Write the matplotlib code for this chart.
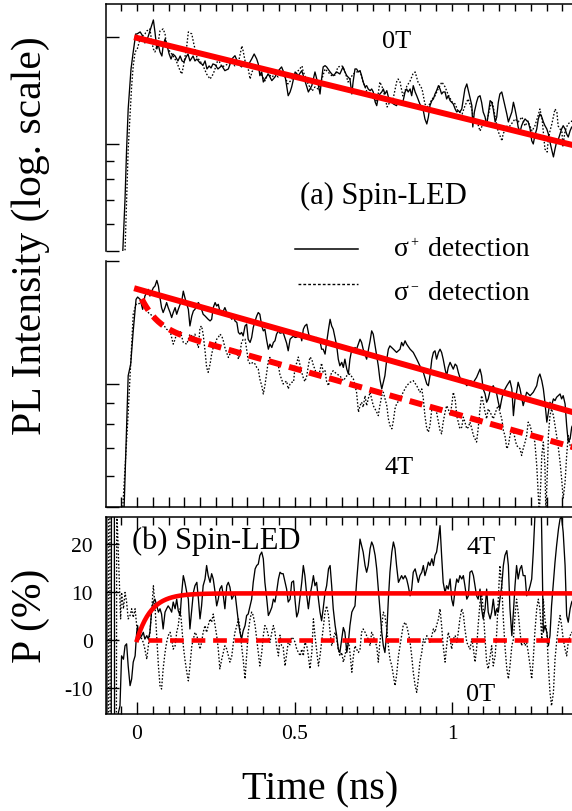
import numpy as np
import matplotlib
matplotlib.use("Agg")
import matplotlib.pyplot as plt
from matplotlib.lines import Line2D
from matplotlib.ticker import FixedLocator, NullFormatter, NullLocator

plt.rcParams["font.family"] = ["Liberation Serif", "DejaVu Serif"]
plt.rcParams["mathtext.fontset"] = "stix"

# ---------------------------------------------------------------------------
# Time-resolved PL of the spin-LED: (time in ns, log10 of PL counts)
# ---------------------------------------------------------------------------
sig_plus_0T = [
    (-0.060, 1.30), (-0.045, 2.003), (-0.038, 2.486), (-0.033, 2.953), (-0.028, 3.327), (-0.019, 3.701),
    (-0.012, 3.860), (-0.004, 4.028), (0.000, 4.028), (0.010, 4.047), (0.016, 4.019), (0.025, 3.944),
    (0.035, 4.000), (0.041, 4.056), (0.048, 4.121), (0.052, 4.159), (0.057, 4.047), (0.063, 3.888),
    (0.067, 3.935), (0.073, 3.860), (0.079, 3.822), (0.083, 3.916), (0.089, 3.981), (0.095, 3.925),
    (0.102, 3.841), (0.108, 3.794), (0.114, 3.841), (0.121, 3.822), (0.130, 3.776), (0.137, 3.822),
    (0.143, 3.776), (0.149, 3.766), (0.156, 3.813), (0.162, 3.841), (0.168, 3.776), (0.178, 3.822),
    (0.184, 3.776), (0.190, 3.794), (0.200, 3.757), (0.210, 3.738), (0.216, 3.776), (0.222, 3.701),
    (0.229, 3.729), (0.235, 3.710), (0.241, 3.748), (0.248, 3.740), (0.257, 3.701), (0.269, 3.732),
    (0.279, 3.685), (0.290, 3.701), (0.301, 3.794), (0.311, 3.825), (0.322, 3.748), (0.332, 3.720),
    (0.343, 3.766), (0.352, 3.732), (0.364, 3.794), (0.372, 3.841), (0.380, 3.794), (0.385, 3.748),
    (0.390, 3.638), (0.396, 3.673), (0.401, 3.579), (0.406, 3.607), (0.417, 3.654), (0.428, 3.592),
    (0.438, 3.626), (0.449, 3.685), (0.459, 3.720), (0.470, 3.638), (0.480, 3.451), (0.486, 3.486),
    (0.491, 3.533), (0.502, 3.673), (0.512, 3.638), (0.523, 3.685), (0.533, 3.592), (0.544, 3.486),
    (0.555, 3.545), (0.565, 3.673), (0.576, 3.545), (0.581, 3.467), (0.586, 3.607), (0.591, 3.720),
    (0.597, 3.732), (0.602, 3.720), (0.613, 3.673), (0.623, 3.638), (0.634, 3.673), (0.644, 3.654),
    (0.654, 3.720), (0.660, 3.673), (0.666, 3.638), (0.676, 3.607), (0.682, 3.467), (0.686, 3.579),
    (0.692, 3.701), (0.697, 3.701), (0.703, 3.673), (0.708, 3.685), (0.713, 3.638), (0.718, 3.579),
    (0.724, 3.533), (0.729, 3.545), (0.734, 3.514), (0.740, 3.498), (0.745, 3.514), (0.750, 3.486),
    (0.756, 3.393), (0.761, 3.358), (0.766, 3.439), (0.771, 3.467), (0.777, 3.486), (0.782, 3.514),
    (0.787, 3.467), (0.793, 3.498), (0.798, 3.439), (0.803, 3.405), (0.814, 3.374), (0.824, 3.358),
    (0.830, 3.405), (0.835, 3.374), (0.845, 3.405), (0.851, 3.486), (0.856, 3.514), (0.861, 3.486),
    (0.867, 3.514), (0.872, 3.451), (0.877, 3.545), (0.883, 3.486), (0.888, 3.451), (0.898, 3.374),
    (0.909, 3.311), (0.914, 3.234), (0.920, 3.187), (0.925, 3.252), (0.930, 3.358), (0.936, 3.405),
    (0.941, 3.421), (0.946, 3.467), (0.951, 3.498), (0.957, 3.545), (0.962, 3.514), (0.967, 3.467),
    (0.972, 3.486), (0.978, 3.486), (0.983, 3.421), (0.988, 3.451), (0.994, 3.405), (0.999, 3.390),
    (1.004, 3.374), (1.010, 3.327), (1.015, 3.299), (1.020, 3.311), (1.025, 3.299), (1.031, 3.327),
    (1.036, 3.421), (1.041, 3.514), (1.047, 3.561), (1.052, 3.498), (1.057, 3.439), (1.063, 3.358),
    (1.066, 3.159), (1.071, 3.299), (1.078, 3.390), (1.083, 3.439), (1.089, 3.451), (1.094, 3.390),
    (1.099, 3.299), (1.105, 3.252), (1.110, 3.171), (1.115, 3.280), (1.121, 3.405), (1.126, 3.390),
    (1.131, 3.327), (1.137, 3.206), (1.142, 3.252), (1.147, 3.390), (1.152, 3.467), (1.158, 3.486),
    (1.163, 3.421), (1.168, 3.358), (1.174, 3.280), (1.179, 3.206), (1.190, 3.299), (1.195, 3.390),
    (1.200, 3.327), (1.205, 3.252), (1.210, 3.159), (1.216, 3.112), (1.221, 3.171), (1.226, 3.206),
    (1.232, 3.234), (1.237, 3.218), (1.242, 3.206), (1.248, 3.140), (1.253, 3.031), (1.258, 3.000),
    (1.263, 3.078), (1.269, 3.140), (1.274, 3.234), (1.279, 3.280), (1.285, 3.252), (1.290, 3.206),
    (1.295, 3.171), (1.301, 3.140), (1.306, 3.093), (1.311, 3.019), (1.316, 2.953), (1.322, 2.879),
    (1.327, 2.953), (1.332, 3.019), (1.338, 3.047), (1.343, 3.093), (1.348, 3.140), (1.353, 3.171),
    (1.359, 3.140), (1.364, 3.093), (1.369, 3.065), (1.375, 3.124), (1.380, 3.159), (1.390, 3.120),
]

sig_minus_0T = [
    (-0.054, 1.271), (-0.038, 2.000), (-0.028, 2.953), (-0.017, 3.542), (-0.012, 3.729), (-0.006, 3.860),
    (0.001, 3.888), (0.007, 3.953), (0.015, 4.000), (0.025, 4.028), (0.031, 4.056), (0.041, 4.075),
    (0.047, 3.953), (0.052, 3.888), (0.057, 3.860), (0.068, 3.963), (0.073, 4.056), (0.083, 4.075),
    (0.089, 4.028), (0.094, 3.916), (0.105, 3.860), (0.115, 3.822), (0.126, 3.766), (0.137, 3.682),
    (0.142, 3.654), (0.147, 3.720), (0.158, 3.916), (0.163, 4.047), (0.174, 4.028), (0.179, 3.953),
    (0.190, 3.813), (0.200, 3.776), (0.210, 3.729), (0.221, 3.654), (0.232, 3.607), (0.242, 3.654),
    (0.253, 3.748), (0.257, 3.794), (0.270, 3.720), (0.289, 3.748), (0.302, 3.766), (0.311, 3.729),
    (0.321, 3.748), (0.333, 3.916), (0.337, 3.869), (0.343, 3.776), (0.352, 3.720), (0.359, 3.607),
    (0.365, 3.673), (0.375, 3.729), (0.384, 3.701), (0.397, 3.636), (0.406, 3.589), (0.416, 3.654),
    (0.429, 3.626), (0.438, 3.654), (0.448, 3.626), (0.460, 3.654), (0.470, 3.626), (0.479, 3.561),
    (0.492, 3.607), (0.502, 3.636), (0.511, 3.682), (0.524, 3.729), (0.527, 3.682), (0.533, 3.636),
    (0.543, 3.561), (0.556, 3.495), (0.565, 3.533), (0.575, 3.514), (0.587, 3.607), (0.597, 3.701),
    (0.606, 3.673), (0.619, 3.636), (0.629, 3.645), (0.638, 3.720), (0.651, 3.729), (0.660, 3.682),
    (0.670, 3.579), (0.686, 3.654), (0.698, 3.673), (0.708, 3.682), (0.717, 3.589), (0.730, 3.486),
    (0.746, 3.439), (0.762, 3.393), (0.771, 3.579), (0.781, 3.514), (0.794, 3.346), (0.803, 3.393),
    (0.813, 3.421), (0.825, 3.589), (0.829, 3.607), (0.835, 3.579), (0.844, 3.449), (0.857, 3.542),
    (0.867, 3.589), (0.876, 3.654), (0.883, 3.673), (0.892, 3.579), (0.905, 3.514), (0.914, 3.374),
    (0.924, 3.346), (0.937, 3.421), (0.946, 3.449), (0.956, 3.514), (0.968, 3.579), (0.978, 3.533),
    (0.987, 3.467), (1.000, 3.393), (1.010, 3.374), (1.019, 3.308), (1.032, 3.280), (1.041, 3.355),
    (1.051, 3.421), (1.063, 3.327), (1.067, 3.252), (1.079, 3.215), (1.089, 3.121), (1.098, 3.187),
    (1.111, 3.215), (1.121, 3.346), (1.127, 3.402), (1.137, 3.252), (1.146, 3.121), (1.159, 3.028),
    (1.162, 3.093), (1.175, 3.168), (1.184, 3.168), (1.200, 3.234), (1.210, 3.206), (1.222, 3.252),
    (1.232, 3.168), (1.241, 3.215), (1.254, 3.121), (1.263, 3.168), (1.273, 3.262), (1.279, 3.327),
    (1.286, 3.234), (1.295, 2.953), (1.302, 2.925), (1.305, 3.019), (1.311, 3.121), (1.317, 3.187),
    (1.327, 3.327), (1.333, 3.299), (1.337, 3.168), (1.349, 3.112), (1.352, 2.981), (1.359, 3.121),
    (1.368, 3.187), (1.381, 3.215), (1.390, 3.180),
]

sig_plus_4T = [
    (-0.050, 1.300), (-0.041, 1.988), (-0.028, 3.067), (-0.020, 3.162), (-0.012, 3.432), (-0.003, 3.688),
    (0.002, 3.707), (0.010, 3.688), (0.018, 3.607), (0.025, 3.715), (0.031, 3.743), (0.036, 3.769),
    (0.041, 3.715), (0.047, 3.755), (0.052, 3.783), (0.057, 3.796), (0.063, 3.842), (0.068, 3.796),
    (0.073, 3.702), (0.078, 3.621), (0.083, 3.581), (0.089, 3.621), (0.094, 3.662), (0.099, 3.621),
    (0.105, 3.581), (0.110, 3.540), (0.115, 3.581), (0.121, 3.621), (0.126, 3.567), (0.131, 3.607),
    (0.137, 3.648), (0.142, 3.674), (0.147, 3.755), (0.152, 3.702), (0.158, 3.648), (0.163, 3.607),
    (0.168, 3.472), (0.174, 3.553), (0.179, 3.594), (0.184, 3.607), (0.190, 3.648), (0.195, 3.662),
    (0.200, 3.634), (0.205, 3.607), (0.210, 3.567), (0.216, 3.553), (0.221, 3.540), (0.226, 3.526),
    (0.232, 3.513), (0.237, 3.526), (0.242, 3.621), (0.248, 3.662), (0.253, 3.634), (0.258, 3.648),
    (0.263, 3.594), (0.269, 3.567), (0.279, 3.621), (0.285, 3.581), (0.290, 3.567), (0.295, 3.553),
    (0.301, 3.526), (0.306, 3.553), (0.311, 3.513), (0.317, 3.500), (0.322, 3.419), (0.327, 3.405),
    (0.332, 3.419), (0.337, 3.391), (0.343, 3.472), (0.348, 3.486), (0.353, 3.364), (0.359, 3.338),
    (0.364, 3.378), (0.369, 3.459), (0.375, 3.513), (0.380, 3.553), (0.385, 3.581), (0.390, 3.567),
    (0.396, 3.472), (0.401, 3.432), (0.406, 3.445), (0.412, 3.351), (0.417, 3.283), (0.422, 3.324),
    (0.428, 3.297), (0.433, 3.338), (0.438, 3.351), (0.443, 3.405), (0.449, 3.432), (0.454, 3.413),
    (0.464, 3.419), (0.475, 3.332), (0.480, 3.270), (0.486, 3.364), (0.491, 3.378), (0.497, 3.389),
    (0.502, 3.378), (0.507, 3.381), (0.512, 3.391), (0.518, 3.413), (0.523, 3.351), (0.528, 3.445),
    (0.533, 3.472), (0.539, 3.486), (0.544, 3.419), (0.549, 3.364), (0.555, 3.378), (0.560, 3.381),
    (0.565, 3.351), (0.570, 3.378), (0.576, 3.364), (0.581, 3.348), (0.586, 3.283), (0.591, 3.283),
    (0.597, 3.243), (0.602, 3.338), (0.608, 3.445), (0.613, 3.526), (0.618, 3.472), (0.623, 3.445),
    (0.634, 3.310), (0.639, 3.202), (0.644, 3.148), (0.650, 3.176), (0.655, 3.135), (0.660, 3.202),
    (0.666, 3.121), (0.671, 3.081), (0.676, 3.202), (0.682, 3.283), (0.687, 3.257), (0.692, 3.297),
    (0.697, 3.283), (0.708, 3.364), (0.713, 3.338), (0.718, 3.283), (0.729, 3.202), (0.740, 3.351),
    (0.745, 3.432), (0.750, 3.405), (0.756, 3.310), (0.761, 3.229), (0.766, 3.148), (0.771, 3.040),
    (0.777, 2.960), (0.782, 3.014), (0.787, 3.067), (0.793, 3.202), (0.798, 3.283), (0.803, 3.310),
    (0.814, 3.283), (0.824, 3.257), (0.835, 3.283), (0.840, 3.338), (0.845, 3.310), (0.851, 3.351),
    (0.856, 3.324), (0.867, 3.283), (0.877, 3.257), (0.888, 3.202), (0.898, 3.148), (0.909, 3.095),
    (0.920, 3.000), (0.925, 2.986), (0.930, 3.067), (0.936, 3.202), (0.941, 3.257), (0.946, 3.270),
    (0.951, 3.202), (0.957, 3.257), (0.962, 3.283), (0.967, 3.257), (0.972, 3.202), (0.978, 3.121),
    (0.983, 3.067), (0.988, 3.135), (0.994, 3.176), (0.999, 3.148), (1.004, 3.121), (1.010, 3.162),
    (1.015, 3.148), (1.020, 3.095), (1.025, 3.054), (1.031, 3.014), (1.036, 3.027), (1.047, 2.986),
    (1.057, 3.027), (1.068, 3.014), (1.078, 3.054), (1.089, 3.121), (1.094, 3.067), (1.099, 2.960),
    (1.105, 2.919), (1.110, 2.852), (1.115, 2.879), (1.121, 2.946), (1.131, 2.986), (1.142, 2.919),
    (1.147, 2.852), (1.152, 2.798), (1.158, 2.879), (1.163, 2.933), (1.174, 2.986), (1.184, 3.027),
    (1.190, 2.960), (1.195, 2.743), (1.200, 2.879), (1.205, 2.933), (1.210, 3.014), (1.216, 2.960),
    (1.226, 2.824), (1.237, 2.933), (1.248, 2.905), (1.258, 2.933), (1.269, 2.986), (1.274, 3.054),
    (1.279, 3.081), (1.285, 3.027), (1.290, 2.960), (1.295, 2.852), (1.301, 2.690), (1.306, 2.771),
    (1.311, 2.852), (1.316, 2.824), (1.322, 2.879), (1.327, 2.865), (1.332, 2.892), (1.343, 2.919),
    (1.348, 2.879), (1.353, 2.905), (1.359, 2.838), (1.364, 2.662), (1.369, 2.528), (1.375, 2.555),
    (1.380, 2.649), (1.390, 2.700),
]

sig_minus_4T = [
    (-0.054, 1.583), (-0.045, 2.004), (-0.029, 2.717), (-0.012, 3.567), (-0.003, 3.648), (0.004, 3.648),
    (0.015, 3.674), (0.020, 3.648), (0.031, 3.594), (0.041, 3.567), (0.052, 3.553), (0.057, 3.540),
    (0.068, 3.513), (0.073, 3.472), (0.078, 3.500), (0.083, 3.486), (0.094, 3.445), (0.105, 3.432),
    (0.115, 3.324), (0.121, 3.364), (0.126, 3.419), (0.137, 3.432), (0.147, 3.338), (0.158, 3.324),
    (0.163, 3.364), (0.168, 3.405), (0.179, 3.378), (0.184, 3.405), (0.190, 3.338), (0.195, 3.297),
    (0.200, 3.459), (0.205, 3.472), (0.210, 3.405), (0.216, 3.270), (0.221, 3.135), (0.226, 3.095),
    (0.232, 3.162), (0.237, 3.243), (0.242, 3.297), (0.248, 3.324), (0.253, 3.364), (0.258, 3.378),
    (0.263, 3.405), (0.269, 3.391), (0.274, 3.351), (0.279, 3.297), (0.290, 3.216), (0.295, 3.243),
    (0.306, 3.283), (0.317, 3.257), (0.322, 3.202), (0.327, 3.257), (0.332, 3.338), (0.337, 3.364),
    (0.343, 3.364), (0.348, 3.283), (0.353, 3.189), (0.359, 3.162), (0.369, 3.176), (0.375, 3.162),
    (0.380, 3.135), (0.385, 3.121), (0.390, 3.040), (0.396, 2.986), (0.401, 2.919), (0.406, 2.986),
    (0.412, 3.095), (0.417, 3.189), (0.422, 3.216), (0.428, 3.176), (0.433, 3.162), (0.443, 3.176),
    (0.449, 3.148), (0.454, 3.073), (0.459, 3.040), (0.464, 3.000), (0.470, 3.014), (0.475, 3.024),
    (0.480, 2.960), (0.486, 3.000), (0.491, 3.014), (0.497, 3.016), (0.502, 3.148), (0.507, 3.170),
    (0.512, 3.219), (0.518, 3.148), (0.523, 3.095), (0.528, 3.049), (0.533, 3.020), (0.539, 3.067),
    (0.544, 3.148), (0.549, 3.219), (0.555, 3.202), (0.560, 3.148), (0.565, 3.121), (0.570, 3.067),
    (0.576, 3.054), (0.581, 3.113), (0.586, 3.170), (0.591, 3.095), (0.597, 3.108), (0.602, 3.020),
    (0.608, 2.986), (0.613, 3.054), (0.618, 3.095), (0.623, 3.108), (0.634, 3.081), (0.644, 3.067),
    (0.655, 3.027), (0.666, 3.067), (0.676, 3.081), (0.687, 3.040), (0.697, 2.933), (0.703, 2.771),
    (0.708, 2.824), (0.713, 2.852), (0.718, 2.811), (0.724, 2.905), (0.729, 2.824), (0.734, 2.879),
    (0.740, 2.933), (0.745, 2.879), (0.750, 2.824), (0.761, 2.771), (0.766, 2.743), (0.771, 2.824),
    (0.777, 2.905), (0.782, 2.933), (0.793, 2.824), (0.798, 2.717), (0.803, 2.662), (0.809, 2.636),
    (0.814, 2.703), (0.819, 2.798), (0.824, 2.838), (0.835, 2.879), (0.845, 2.933), (0.856, 2.986),
    (0.867, 3.014), (0.877, 3.027), (0.888, 2.986), (0.898, 2.933), (0.904, 2.960), (0.909, 2.879),
    (0.914, 2.743), (0.920, 2.636), (0.925, 2.609), (0.930, 2.662), (0.936, 2.798), (0.941, 2.824),
    (0.951, 2.771), (0.957, 2.690), (0.962, 2.622), (0.967, 2.595), (0.972, 2.690), (0.978, 2.771),
    (0.983, 2.824), (0.988, 2.798), (0.994, 2.743), (0.999, 2.824), (1.004, 2.933), (1.010, 2.879),
    (1.015, 2.743), (1.020, 2.690), (1.025, 2.636), (1.031, 2.649), (1.036, 2.730), (1.041, 2.690),
    (1.047, 2.636), (1.052, 2.649), (1.057, 2.690), (1.063, 2.636), (1.068, 2.581), (1.073, 2.555),
    (1.078, 2.528), (1.083, 2.636), (1.089, 2.798), (1.094, 2.905), (1.099, 2.852), (1.105, 2.771),
    (1.110, 2.717), (1.115, 2.798), (1.121, 2.771), (1.131, 2.717), (1.142, 2.798), (1.147, 2.824),
    (1.152, 2.771), (1.158, 2.717), (1.163, 2.622), (1.168, 2.581), (1.174, 2.474), (1.179, 2.500),
    (1.184, 2.581), (1.190, 2.636), (1.195, 2.622), (1.200, 2.555), (1.205, 2.500), (1.216, 2.474),
    (1.221, 2.419), (1.226, 2.474), (1.232, 2.528), (1.237, 2.581), (1.242, 2.690), (1.248, 2.662),
    (1.253, 2.609), (1.258, 2.568), (1.263, 2.528), (1.269, 2.338), (1.274, 2.096), (1.277, 1.947),
    (1.282, 2.204), (1.285, 2.419), (1.290, 2.528), (1.295, 2.338), (1.298, 1.947), (1.303, 2.312),
    (1.306, 2.581), (1.311, 2.743), (1.316, 2.798), (1.322, 2.743), (1.327, 2.662), (1.332, 2.581),
    (1.338, 2.474), (1.343, 2.366), (1.348, 2.231), (1.353, 2.069), (1.359, 2.204), (1.364, 2.419),
    (1.369, 2.581), (1.375, 2.500), (1.380, 2.474), (1.390, 2.450),
]

# Circular polarization degree: (time in ns, P in %)
pol_4T = [
    (-0.096, 40), (-0.095, -40), (-0.082, -40), (-0.081, 40), (-0.072, 40), (-0.071, -40), (-0.062, -40),
    (-0.059, -15.1), (-0.054, -13.7), (-0.049, -3.3),
    (-0.043, -4.0), (-0.038, -1.2), (-0.033, -0.8), (-0.028, -5.4), (-0.022, -9.5), (-0.017, -8.1),
    (-0.012, -4.6), (-0.006, -3.3), (-0.001, 1.6), (0.002, 3.0), (0.007, 0.2), (0.015, 0.9), (0.020, 1.6),
    (0.025, 0.2), (0.031, 0.9), (0.036, 0.2), (0.041, 1.6), (0.047, 6.5), (0.052, 7.9), (0.057, 8.5),
    (0.063, 7.1), (0.068, 5.8), (0.073, 6.5), (0.078, 5.4), (0.083, 2.3), (0.089, 5.8), (0.094, 6.5),
    (0.099, 7.1), (0.105, 6.5), (0.110, 5.8), (0.115, 7.9), (0.121, 6.5), (0.126, 8.5), (0.131, 6.1),
    (0.137, 5.1), (0.142, 9.9), (0.147, 13.4), (0.152, 12.0), (0.158, 9.9), (0.163, 8.5), (0.168, 2.3),
    (0.174, 6.5), (0.179, 9.9), (0.184, 11.3), (0.190, 12.0), (0.195, 8.5), (0.200, 4.4), (0.205, 7.1),
    (0.210, 11.3), (0.216, 12.7), (0.221, 15.5), (0.226, 13.4), (0.232, 12.0), (0.237, 13.8), (0.242, 12.7),
    (0.248, 9.9), (0.253, 7.1), (0.258, 8.5), (0.263, 10.6), (0.269, 11.3), (0.274, 9.2), (0.279, 6.5),
    (0.285, 11.3), (0.290, 12.0), (0.295, 11.0), (0.301, 8.5), (0.306, 9.2), (0.311, 9.9), (0.317, 6.5),
    (0.322, 3.7), (0.327, 1.6), (0.332, 0.2), (0.337, 1.9), (0.343, 3.0), (0.348, 5.1), (0.353, 5.4),
    (0.359, 7.1), (0.364, 8.5), (0.369, 12.0), (0.375, 14.8), (0.380, 15.5), (0.385, 15.8), (0.390, 17.6),
    (0.396, 18.3), (0.401, 16.9), (0.406, 12.0), (0.412, 8.5), (0.417, 5.1), (0.422, 5.8), (0.428, 6.8),
    (0.433, 8.5), (0.438, 7.9), (0.443, 9.9), (0.449, 12.7), (0.454, 14.1), (0.459, 13.8), (0.464, 13.8),
    (0.470, 12.1), (0.475, 10.6), (0.480, 7.9), (0.486, 8.5), (0.491, 12.0), (0.497, 12.3), (0.502, 8.1),
    (0.507, 4.8), (0.512, 5.8), (0.518, 9.2), (0.523, 12.0), (0.528, 15.5), (0.533, 13.4), (0.539, 9.2),
    (0.544, 6.5), (0.549, 9.2), (0.555, 11.3), (0.560, 13.4), (0.565, 11.3), (0.570, 12.0), (0.576, 8.5),
    (0.581, 5.8), (0.586, 4.0), (0.591, 6.5), (0.597, 9.9), (0.602, 11.3), (0.608, 14.8), (0.613, 15.5),
    (0.618, 11.3), (0.623, 6.5), (0.629, 3.0), (0.634, 0.9), (0.639, -1.9), (0.644, -2.6), (0.650, 0.2),
    (0.655, 2.6), (0.660, 1.6), (0.666, -2.6), (0.671, -0.5), (0.676, 3.0), (0.682, 5.8), (0.687, 6.5),
    (0.692, 7.1), (0.697, 12.0), (0.703, 16.9), (0.708, 21.0), (0.713, 19.6), (0.718, 18.3), (0.724, 15.5),
    (0.729, 14.1), (0.734, 15.5), (0.740, 19.0), (0.745, 20.4), (0.750, 19.6), (0.756, 17.6), (0.761, 14.8),
    (0.766, 10.6), (0.771, 6.5), (0.777, 1.6), (0.782, -1.2), (0.787, -2.6), (0.793, 1.6), (0.798, 8.5),
    (0.803, 14.1), (0.809, 18.3), (0.814, 20.4), (0.819, 19.0), (0.824, 15.5), (0.830, 12.0), (0.835, 12.7),
    (0.840, 13.4), (0.845, 12.7), (0.851, 13.4), (0.856, 12.7), (0.861, 11.3), (0.867, 9.2), (0.872, 10.6),
    (0.877, 14.1), (0.883, 14.8), (0.888, 13.4), (0.893, 12.0), (0.898, 13.4), (0.904, 14.1), (0.909, 15.5),
    (0.914, 13.4), (0.920, 14.8), (0.925, 16.2), (0.930, 15.5), (0.936, 16.9), (0.941, 15.5), (0.946, 17.6),
    (0.951, 18.3), (0.957, 21.0), (0.962, 23.8), (0.967, 17.6), (0.972, 12.0), (0.978, 9.9), (0.983, 11.3),
    (0.988, 10.6), (0.994, 12.7), (0.999, 8.5), (1.004, 7.1), (1.010, 10.6), (1.015, 12.7), (1.020, 12.0),
    (1.025, 13.4), (1.031, 12.7), (1.036, 13.4), (1.041, 11.3), (1.047, 8.5), (1.052, 9.2), (1.057, 14.1),
    (1.063, 14.4), (1.068, 13.4), (1.073, 11.3), (1.078, 9.2), (1.083, 8.5), (1.089, 10.6), (1.094, 6.5),
    (1.099, 4.4), (1.105, 6.5), (1.110, 10.6), (1.115, 5.8), (1.121, 4.4), (1.126, 5.8), (1.131, 8.5),
    (1.137, 5.1), (1.142, 6.5), (1.147, 5.8), (1.152, 8.5), (1.158, 11.3), (1.163, 15.5), (1.168, 17.6),
    (1.174, 18.6), (1.179, 15.5), (1.184, 6.5), (1.190, 0.9), (1.195, 5.8), (1.200, 11.3), (1.205, 15.5),
    (1.210, 12.7), (1.216, 14.8), (1.221, 15.5), (1.226, 13.4), (1.232, 13.4), (1.237, 9.2), (1.242, 9.9),
    (1.248, 11.3), (1.253, 12.7), (1.258, 18.3), (1.265, 28.3), (1.273, 33.5), (1.283, 29.4), (1.290, 1.6),
    (1.295, 3.0), (1.301, 1.6), (1.306, -1.2), (1.311, 0.9), (1.316, 7.1), (1.322, 12.0), (1.327, 16.2),
    (1.332, 19.6), (1.338, 23.1), (1.343, 25.2), (1.348, 25.6), (1.353, 22.4), (1.359, 15.5), (1.364, 5.1),
    (1.369, 3.7), (1.375, 6.5), (1.380, 7.9), (1.390, 9.0),
]

pol_0T = [
    (-0.091, -40), (-0.090, 40), (-0.086, 40), (-0.085, -40), (-0.066, -40), (-0.064, 40),
    (-0.063, 25.2), (-0.056, 12.0), (-0.052, 4.4), (-0.049, 9.9), (-0.043, 6.5),
    (-0.038, 9.9), (-0.033, 7.9), (-0.028, 4.4), (-0.022, 5.1), (-0.017, 6.5), (-0.012, 4.7), (-0.006, 6.5),
    (-0.001, 3.0), (0.004, 0.9), (0.010, 1.6), (0.015, 0.2), (0.020, -0.5), (0.025, -1.9), (0.031, -4.0),
    (0.036, -1.2), (0.041, 1.6), (0.047, 6.5), (0.052, 11.3), (0.057, 7.1), (0.063, 0.2), (0.068, -5.4),
    (0.073, -9.5), (0.078, -10.2), (0.083, -6.0), (0.089, -2.6), (0.094, -0.5), (0.099, 0.9), (0.105, 1.6),
    (0.110, 0.2), (0.115, -1.9), (0.121, -1.2), (0.126, 1.6), (0.131, 3.0), (0.137, 6.5), (0.142, 3.0),
    (0.147, -1.2), (0.152, -4.0), (0.158, -6.7), (0.163, -8.5), (0.168, -5.4), (0.174, -1.2), (0.179, 0.2),
    (0.184, 1.6), (0.190, 0.9), (0.195, -0.5), (0.200, -1.9), (0.205, -0.5), (0.210, 1.6), (0.216, 3.0),
    (0.221, 1.6), (0.226, 3.0), (0.232, 4.4), (0.237, 3.7), (0.242, 5.4), (0.248, 3.0), (0.253, 0.9),
    (0.258, -1.9), (0.263, -6.0), (0.269, -4.0), (0.274, -2.6), (0.279, -1.2), (0.285, -1.9), (0.290, -3.3),
    (0.295, -4.6), (0.301, -3.3), (0.306, -0.5), (0.311, 1.6), (0.317, 3.0), (0.322, 4.4), (0.327, 2.3),
    (0.332, -1.2), (0.337, -4.0), (0.343, -8.1), (0.348, -3.3), (0.353, 1.6), (0.359, 4.4), (0.364, 5.8),
    (0.369, 5.1), (0.375, 3.0), (0.380, 0.2), (0.385, -2.6), (0.390, -5.4), (0.396, -2.6), (0.401, 0.9),
    (0.406, 3.0), (0.412, 2.3), (0.417, 0.9), (0.422, -0.5), (0.428, 1.6), (0.433, 3.0), (0.438, 1.6),
    (0.443, -1.2), (0.449, -3.3), (0.454, 1.0), (0.459, -1.2), (0.464, -1.5), (0.470, -5.4), (0.475, -2.9),
    (0.480, -0.5), (0.486, -1.0), (0.491, 0.6), (0.497, 0.2), (0.502, -0.5), (0.507, -1.9), (0.518, -3.3),
    (0.523, -1.9), (0.528, -3.3), (0.533, -0.5), (0.539, -1.2), (0.544, -3.3), (0.549, -6.0), (0.555, -2.6),
    (0.560, 4.4), (0.565, 0.9), (0.570, -1.9), (0.576, -5.4), (0.581, -3.3), (0.586, -0.5), (0.591, 2.3),
    (0.597, 5.8), (0.602, 7.1), (0.608, 5.1), (0.613, 1.6), (0.618, -1.2), (0.623, 0.2), (0.629, 1.6),
    (0.634, 0.2), (0.639, -1.9), (0.644, -3.3), (0.650, -2.6), (0.655, -4.6), (0.660, -3.3), (0.666, -1.2),
    (0.671, 0.2), (0.676, -2.6), (0.682, -6.7), (0.687, -3.3), (0.692, -1.2), (0.697, -1.9), (0.703, -2.6),
    (0.708, -1.9), (0.713, 1.6), (0.718, 2.3), (0.724, 1.6), (0.729, 0.9), (0.734, 0.2), (0.740, -1.2),
    (0.745, 1.6), (0.750, 0.9), (0.756, -0.5), (0.761, -1.2), (0.766, -4.6), (0.771, -0.5), (0.777, 3.0),
    (0.782, 5.8), (0.787, 5.1), (0.793, 2.3), (0.798, -1.2), (0.803, -4.0), (0.809, -5.4), (0.814, -7.4),
    (0.819, -9.5), (0.824, -7.4), (0.830, -3.3), (0.835, -1.2), (0.840, 0.9), (0.845, 3.0), (0.851, 3.7),
    (0.856, 3.0), (0.861, 1.6), (0.867, -0.5), (0.872, -3.3), (0.877, -6.7), (0.883, -9.5), (0.888, -10.9),
    (0.893, -8.1), (0.898, -4.6), (0.904, -2.6), (0.909, 0.2), (0.914, -0.5), (0.920, 0.9), (0.925, 0.2),
    (0.930, -0.5), (0.936, 0.9), (0.941, 2.3), (0.946, 1.6), (0.951, 3.0), (0.957, 4.4), (0.962, 6.5),
    (0.967, 3.0), (0.972, -1.2), (0.978, -4.6), (0.983, -1.2), (0.988, 1.6), (0.994, 0.2), (0.999, -1.9),
    (1.004, 0.2), (1.010, 0.9), (1.015, -0.5), (1.020, 1.6), (1.025, 4.4), (1.031, 6.5), (1.036, 5.4),
    (1.041, 2.3), (1.047, -0.5), (1.052, -1.2), (1.057, -1.9), (1.063, 0.2), (1.068, -1.9), (1.073, -4.6),
    (1.078, -1.9), (1.083, 3.0), (1.089, 7.9), (1.094, 9.9), (1.099, 6.5), (1.105, 0.2), (1.110, -4.6),
    (1.115, -6.0), (1.121, -3.3), (1.126, -1.2), (1.131, -5.4), (1.137, -3.3), (1.142, 1.6), (1.147, 8.5),
    (1.152, 15.5), (1.158, 11.3), (1.163, 4.4), (1.168, -1.2), (1.174, -6.0), (1.179, -8.1), (1.184, -5.4),
    (1.190, -1.2), (1.195, 0.2), (1.200, 5.1), (1.205, 8.5), (1.210, 5.8), (1.216, 1.6), (1.221, -1.2),
    (1.226, 0.2), (1.232, -1.2), (1.237, -0.5), (1.242, -2.6), (1.248, -5.4), (1.253, -8.1), (1.258, -4.0),
    (1.263, 1.6), (1.269, 6.5), (1.274, 8.5), (1.279, 6.5), (1.285, 0.2), (1.290, 8.5), (1.295, 4.4),
    (1.301, 1.6), (1.306, -5.4), (1.311, -10.9), (1.316, -13.7), (1.322, -10.9), (1.327, -4.0), (1.332, -0.5),
    (1.338, 3.0), (1.343, 5.1), (1.348, 3.0), (1.353, 0.2), (1.359, -1.9), (1.364, -3.3), (1.369, -0.5),
    (1.375, 0.9), (1.380, 1.6), (1.390, 1.0),
]

# Fit parameters
tau_pl = 0.6          # ns, PL decay time
i0_0T = 9800.0        # counts at t = 0, 0 T
i0_4T = 5920.0        # counts at t = 0, 4 T
minus_ratio_4T = 0.52 # long-time sigma-/sigma+ ratio at 4 T
tau_spin = 0.04       # ns, spin relaxation time
p_sat = 9.7           # %, saturated polarization at 4 T
tau_rise = 0.045      # ns, rise time of the polarization
p_fit_0T = 0.0        # %, polarization at 0 T

# Axis ticks and labels
time_major = [0, 0.5, 1]
time_labels = ["0", "0.5", "1"]
time_minor_step = 0.05
p_ticks = [-10, 0, 10, 20]
p_labels = ["-10", "0", "10", "20"]
log_major = [1e2, 1e3, 1e4]
log_minor = [180, 300, 470, 700]

# ---------------------------------------------------------------------------
W, H = 572, 812
fig = plt.figure(figsize=(W / 100, H / 100), dpi=100)


def fx(px):
    return px / W


def fy(py):
    return 1 - py / H


x_lo, x_hi = -0.1, 1.45
px_per_ns = 315.0
ax_left = fx(137 + x_lo * px_per_ns)
ax_width = (x_hi - x_lo) * px_per_ns / W


def panel(top, bottom):
    return fig.add_axes([ax_left, fy(bottom), ax_width, (bottom - top) / H])


ax1 = panel(5, 252)
ax2 = panel(262, 508)
ax3 = panel(518, 715)

minor_grid = np.arange(-0.05, x_hi + 1e-6, time_minor_step)
for ax in (ax1, ax2, ax3):
    ax.set_xlim(x_lo, x_hi)
    for s in ax.spines.values():
        s.set_linewidth(1.1)
    ax.spines["right"].set_visible(False)


def pl_curve(ax, data, style):
    arr = np.array(data)
    ax.plot(arr[:, 0], 10 ** arr[:, 1], color="black", lw=0.95, ls=style, zorder=3)


solid = "-"
dotted = (0, (1.2, 1.4))

# --- (a) 0 T ---------------------------------------------------------------
ax1.set_yscale("log")
ax1.set_ylim(1e2, 10 ** 4.308)
pl_curve(ax1, sig_plus_0T, solid)
pl_curve(ax1, sig_minus_0T, dotted)
tf = np.linspace(0, x_hi, 600)
ax1.plot(tf, i0_0T * np.exp(-tf / tau_pl), color="red", lw=4.3, zorder=5)
ax1.spines["bottom"].set_visible(False)

# --- (a) 4 T ---------------------------------------------------------------
ax2.set_yscale("log")
ax2.set_ylim(1e2, 1e4)
pl_curve(ax2, sig_plus_4T, solid)
pl_curve(ax2, sig_minus_4T, dotted)
ax2.plot(tf, i0_4T * np.exp(-tf / tau_pl), color="red", lw=4.3, zorder=5)
tm = np.linspace(0.015, x_hi, 600)
ax2.plot(tm, i0_4T * np.exp(-tm / tau_pl) * (minus_ratio_4T + (1 - minus_ratio_4T) * np.exp(-tm / tau_spin)),
         color="red", lw=4.3, ls=(0, (2.2, 1.3)), zorder=5)
ax2.spines["top"].set_visible(False)

for ax in (ax1, ax2):
    ax.yaxis.set_major_locator(FixedLocator(log_major))
    ax.yaxis.set_minor_locator(FixedLocator(log_minor))
    ax.yaxis.set_major_formatter(NullFormatter())
    ax.yaxis.set_minor_formatter(NullFormatter())
    ax.tick_params(axis="y", which="major", direction="in", length=9, width=1.0, left=True, right=False)
    ax.tick_params(axis="y", which="minor", direction="in", length=6, width=1.0, left=True, right=False)
    ax.xaxis.set_major_locator(FixedLocator(minor_grid))
    ax.xaxis.set_minor_locator(NullLocator())
    ax.xaxis.set_major_formatter(NullFormatter())

ax1.tick_params(axis="x", which="major", direction="in", length=5, width=1.0, top=True, bottom=False)
ax2.tick_params(axis="x", which="major", direction="in", length=7, width=1.0, top=False, bottom=True)

# --- (b) polarization ------------------------------------------------------
ax3.set_ylim(-15.4, 25.6)
p4 = np.array(pol_4T)
p0 = np.array(pol_0T)
ax3.plot(p4[:, 0], p4[:, 1], color="black", lw=0.95, zorder=3)
ax3.plot(p0[:, 0], p0[:, 1], color="black", lw=0.95, ls=dotted, zorder=3)
ax3.plot(tf, p_sat * (1 - np.exp(-tf / tau_rise)), color="red", lw=3.3, zorder=5)
ax3.plot([0.035, x_hi], [p_fit_0T, p_fit_0T], color="red", lw=3.3, ls=(0, (3.0, 1.7)), zorder=5)

ax3.xaxis.set_major_locator(FixedLocator(time_major))
ax3.set_xticklabels(time_labels)
ax3.xaxis.set_minor_locator(FixedLocator(minor_grid))
ax3.set_yticks(p_ticks)
ax3.set_yticklabels(p_labels)
ax3.tick_params(axis="x", which="major", direction="in", length=9, width=1.0, top=True, bottom=True,
                labelsize=15.5, pad=7)
ax3.tick_params(axis="x", which="minor", direction="in", length=6, width=1.0, top=True, bottom=True)
ax3.tick_params(axis="y", which="major", direction="in", length=9, width=1.0, left=True, right=False,
                labelsize=15.5, pad=9)

# --- labels and annotations -------------------------------------------------
fig.text(fx(31), fy(236), "PL Intensity (log. scale)", rotation=90, ha="center", va="center", fontsize=30)
fig.text(fx(31), fy(616), "P (%)", rotation=90, ha="center", va="center", fontsize=30)
fig.text(fx(320), fy(790), "Time (ns)", ha="center", va="center", fontsize=29)

fig.text(fx(397), fy(42), "0T", ha="center", va="center", fontsize=19)
fig.text(fx(383), fy(196), "(a) Spin-LED", ha="center", va="center", fontsize=22)
fig.text(fx(399), fy(468), "4T", ha="center", va="center", fontsize=19)
fig.text(fx(216), fy(541), "(b) Spin-LED", ha="center", va="center", fontsize=22)
fig.text(fx(481), fy(548), "4T", ha="center", va="center", fontsize=19)
fig.text(fx(481), fy(695), "0T", ha="center", va="center", fontsize=19)

# legend entries
fig.add_artist(Line2D([fx(295), fx(358)], [fy(250), fy(250)], color="black", lw=1.1,
                      transform=fig.transFigure))
fig.add_artist(Line2D([fx(298), fx(358)], [fy(285), fy(285)], color="black", lw=1.0, ls=(0, (2.0, 1.5)),
                      transform=fig.transFigure))
for base, sign in ((256, "+"), (300, "\u2212")):
    fig.text(fx(394), fy(base), "\u03c3", ha="left", va="baseline", fontsize=20)
    fig.text(fx(410), fy(base - 10), sign, ha="left", va="baseline", fontsize=10)
    fig.text(fx(428), fy(base), "detection", ha="left", va="baseline", fontsize=20)

fig.savefig("out.png", dpi=100)
